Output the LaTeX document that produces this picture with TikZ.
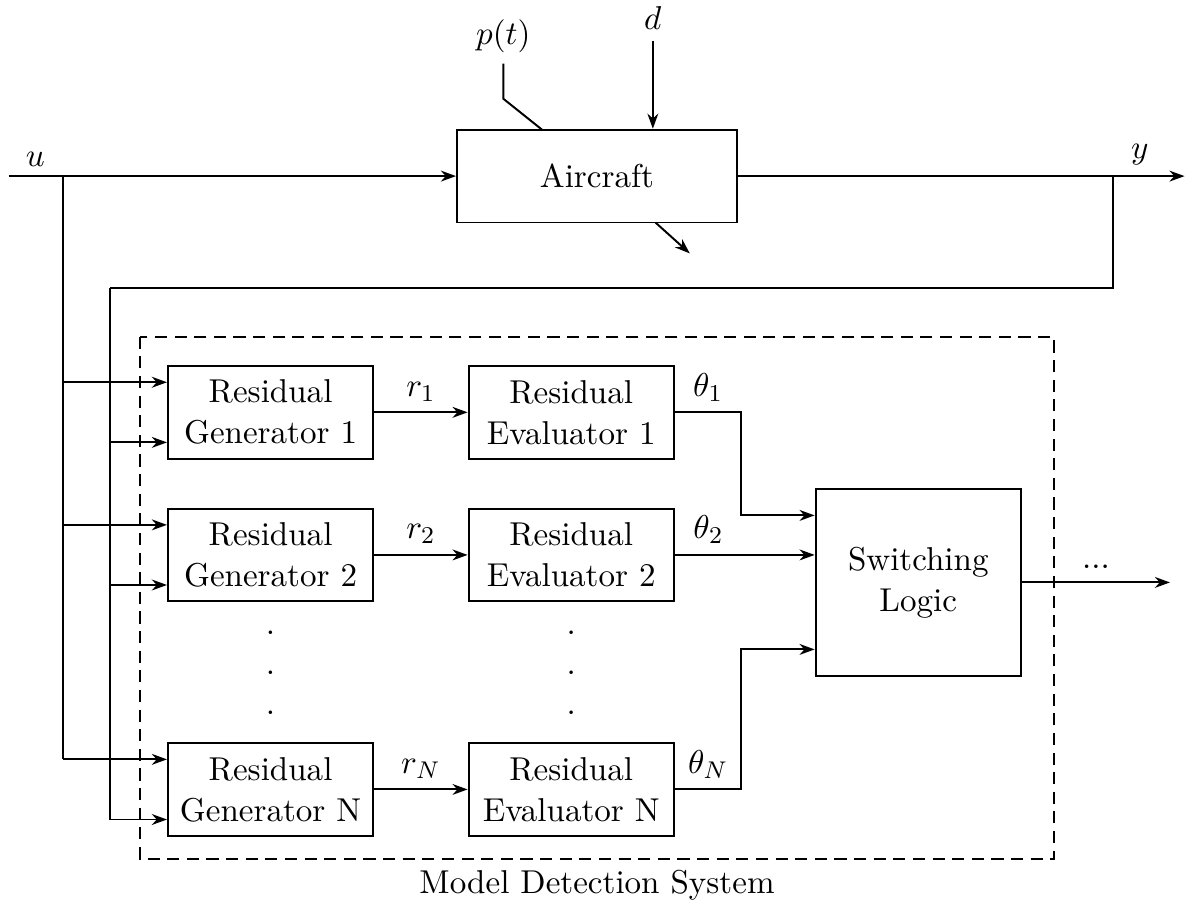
\documentclass[tikz,border=0pt]{standalone}
\usepackage{amsmath}
\usepackage{amssymb}
\usetikzlibrary{arrows.meta}

\begin{document}
\begin{tikzpicture}[line width=0.65pt,
		>={Stealth[length=5pt,width=3.6pt,inset=1.6pt]},
		every node/.style={font=\fontsize{10.95}{13.6}\selectfont},
		blk/.style={draw, minimum width=2.39cm, minimum height=1.08cm, align=center, inner sep=2pt}]
		\useasboundingbox (0,0) rectangle (13.83,-10.56);
		%\draw [help lines] (0,0) grid (13,-10);
		
		% plant
		\node [draw, minimum width=3.26cm, minimum height=1.08cm] (air) at (6.95,-2.05) {Aircraft};
		\node (u) at (0.41,-1.86) {$u$};
		\node (y) at (13.27,-1.80) {$y$};
		\node (p) at (5.86,-0.42) {$p(t)$};
		\node (d) at (7.60,-0.21) {$d$};
		\coordinate (uin) at (0.10,-2.05);
		\coordinate (yout) at (13.79,-2.05);
		\coordinate (ubr) at (0.73,-2.05);
		\coordinate (ybr) at (12.96,-2.05);
		\coordinate (fb) at (1.28,-3.35);
		\coordinate (pk) at (5.86,-1.15);
		\coordinate (pin) at (6.31,-1.51);
		\coordinate (aout) at (7.63,-2.59);
		\coordinate (aend) at (8.03,-2.95);
		
		\draw [->] (uin) -- (air.west);
		\draw [->] (air.east) -- (yout);
		\draw [->] (d) -- (d |- air.north);
		\draw (p.south) -- (pk) -- (pin);
		\draw [->] (aout) -- (aend);
		\draw (ybr) |- (fb);
		
		% detection system
		\draw [dash pattern=on 4pt off 2.5pt] (1.63,-3.92) rectangle (12.27,-10.00);
		\node (mds) at (6.95,-10.31) {Model Detection System};
		
		\node [blk, minimum height=2.17cm] (sw) at (10.69,-6.78) {Switching\\Logic};
		\coordinate (elb) at (8.63,0);
		\coordinate (out) at (13.62,-6.78);
		\draw [->] (sw) -- node [above=1pt] {...} (out);
		
		\foreach \i/\yy in {1/-4.80,2/-6.46,N/-9.19} {
			\node [blk] (g\i) at (3.15,\yy) {Residual\\Generator \i};
			\node [blk] (e\i) at (6.65,\yy) {Residual\\Evaluator \i};
			\draw [->] (g\i) -- node [above] {$r_{\i}$} (e\i);
			\coordinate (a\i) at ([yshift=0.35cm]g\i.west);
			\coordinate (b\i) at ([yshift=-0.35cm]g\i.west);
			\draw [->] (ubr |- a\i) -- (a\i);
			\draw [->] (fb |- b\i) -- (b\i);
		}
		\draw (ubr) -- (ubr |- aN);
		\draw (fb) -- (fb |- bN);
		
		% to the switching logic
		\coordinate (s1) at ([yshift=0.78cm]sw.west);
		\coordinate (sN) at ([yshift=-0.78cm]sw.west);
		\draw [->] (e1.east) -- node [above] {$\theta_1$} (e1.east -| elb) |- (s1);
		\draw [->] (e2.east) -- node [above, pos=0.24] {$\theta_2$} (sw.west |- e2.east);
		\draw [->] (eN.east) -- node [above] {$\theta_N$} (eN.east -| elb) |- (sN);
		
		% dots
		\foreach \k/\yy in {1/-7.37,2/-7.83,3/-8.30} {
			\node (dg\k) at (3.15,\yy) {.};
			\node (de\k) at (6.65,\yy) {.};
		}
	\end{tikzpicture}
\end{document}
